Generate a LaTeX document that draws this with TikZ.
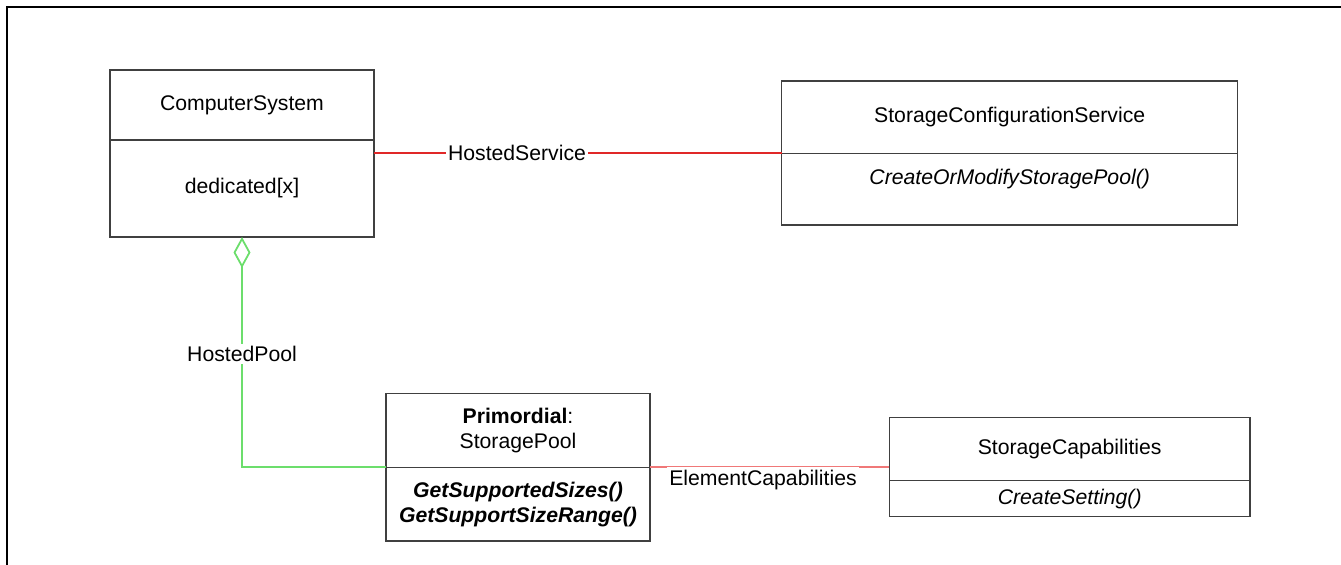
\documentclass[tikz,border=0pt]{standalone}
\usepackage{fontspec}
\setmainfont{Liberation Sans}
\usetikzlibrary{arrows.meta}

\definecolor{assocred}{HTML}{E02828}
\definecolor{assocpink}{HTML}{F07878}
\definecolor{aggrgreen}{HTML}{6CDE6C}

\tikzset{
    comp/.style={draw=black!75, line width=0.65pt, inner sep=0pt, outer sep=0pt,
        align=center, font=\fontsize{10.6}{12.4}\selectfont},
    rel/.style={line width=0.9pt},
    rellabel/.style={fill=white, text=black, inner sep=1pt,
        font=\fontsize{10.6}{12.4}\selectfont},
}

\begin{document}
\begin{tikzpicture}[x=0.5pt,y=-0.5pt]
            \useasboundingbox (0,0) rectangle (1341,565);
            \draw[line width=1pt] (7.3,565) -- (7.3,7.3) -- (1341,7.3);

            \node[comp, minimum width=132pt, minimum height=35pt] (sys) at (242,105) {ComputerSystem};
            \node[comp, minimum width=132pt, minimum height=48.5pt, anchor=north] (sysA) at (sys.south) {dedicated[x]};

            \node[comp, minimum width=228pt, minimum height=36.2pt] (svc) at (1009.7,117.2) {StorageConfigurationService};
            \node[comp, minimum width=228pt, minimum height=35.8pt, anchor=north,
                text height=8pt, text depth=12.4pt] (svcM) at (svc.south) {\textit{CreateOrModifyStoragePool()}};

            \node[comp, minimum width=132pt, minimum height=37pt] (pool) at (518,430.3) {\textbf{Primordial}:\\StoragePool};
            \node[comp, minimum width=132pt, minimum height=36.85pt, anchor=north] (poolM) at (pool.south)
                {\textbf{\textit{GetSupportedSizes()}}\\\textbf{\textit{GetSupportSizeRange()}}};

            \node[comp, minimum width=180.35pt, minimum height=31.7pt] (cap) at (1069.7,449) {StorageCapabilities};
            \node[comp, minimum width=180.35pt, minimum height=18pt, anchor=north] (capM) at (cap.south) {\textit{CreateSetting()}};

            % associations
            \draw[rel, draw=assocred] (sysA.east |- svc.south) -- (svc.south west);
            \node[rellabel] (hs) at (517,153.3) {HostedService};
            \draw[rel, draw=aggrgreen, {Diamond[open, length=15.5pt, width=8.5pt]}-] (sysA.south)
                -- (sysA.south |- poolM.north) -- (poolM.north west);
            \node[rellabel] (hp) at (242,354) {HostedPool};
            \draw[rel, draw=assocpink] (poolM.north east) -- (cap.west |- poolM.north);
            \node[rellabel, inner ysep=1.7pt] (ec) at (763,480) {ElementCapabilities};
        \end{tikzpicture}
\end{document}
